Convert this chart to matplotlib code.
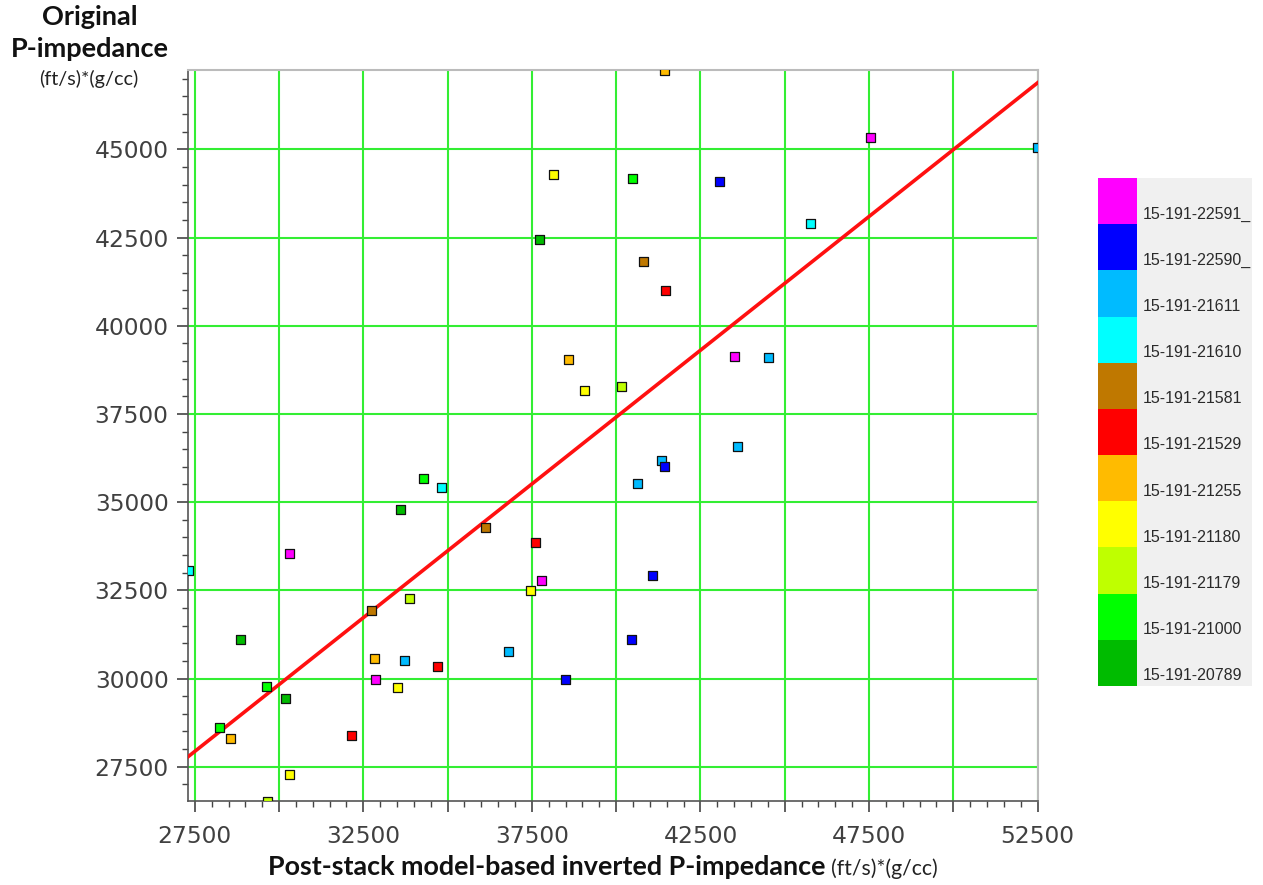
import matplotlib
matplotlib.use("Agg")
import matplotlib.pyplot as plt
from matplotlib.ticker import MultipleLocator, FuncFormatter
from matplotlib.patches import Rectangle

# %% data
wells = ['15-191-22591_', '15-191-22590_', '15-191-21611', '15-191-21610',
         '15-191-21581', '15-191-21529', '15-191-21255', '15-191-21180',
         '15-191-21179', '15-191-21000', '15-191-20789']
well_colors = ['#FF00FF', '#0000FF', '#00BBFF', '#00FFFF', '#BF7800', '#FF0000',
               '#FFBB00', '#FFFF00', '#BFFF00', '#00FF00', '#00BB00']

# inverted impedance (x), original impedance (y), well id (last 5 digits)
inv_x = [38135, 37740, 38600, 39075, 40164, 41420, 47535, 52500, 40480, 43062,
         45754, 40806, 41450, 43498, 44516, 34288, 34810, 33594, 36128, 37621,
         30299, 27300, 37790, 37464, 33861, 32745, 28845, 36820, 32834, 33724,
         34704, 32872, 38482, 29616, 33516, 30180, 28242, 28560, 32151, 30320,
         29658, 43587, 41331, 41420, 40628, 41085, 40441]
orig_y = [44272, 42457, 39056, 38177, 38271, 47248, 45340, 45045, 44178, 44082,
          42903, 41834, 41003, 39121, 39093, 35675, 35408, 34785, 34286, 33849,
          33549, 33056, 32792, 32489, 32262, 31922, 31111, 30780, 30573, 30516,
          30346, 29986, 29977, 29787, 29751, 29447, 28625, 28305, 28390, 27293,
          26528, 36590, 36193, 36003, 35541, 32925, 31111]
well_id = ['21180', '20789', '21255', '21180', '21179', '21255', '22591', '21611', '21000', '22590',
           '21610', '21581', '21529', '22591', '21611', '21000', '21610', '20789', '21581', '21529',
           '22591', '21610', '22591', '21180', '21179', '21581', '20789', '21611', '21255', '21611',
           '21529', '22591', '22590', '21000', '21180', '20789', '21000', '21255', '21529', '21180',
           '21179', '21611', '21611', '22590', '21611', '22590', '22590']

# fitted line (slope, intercept)
fit_slope = 0.758
fit_intercept = 27783 - 0.758 * 27300

#%% figure
fig = plt.figure(figsize=(12.63, 8.85), dpi=100)
ax = fig.add_axes([0.1489, 0.0949, 0.8726 - 0.1489 - 0.0511, 0.9209 - 0.0949])

color_of = {w[7:12]: c for w, c in zip(wells, well_colors)}
cols = [color_of[w] for w in well_id]

ax.set_xlim(min(inv_x), max(inv_x))
ax.set_ylim(min(orig_y), max(orig_y))

ax.xaxis.set_major_locator(MultipleLocator(2500))
ax.xaxis.set_minor_locator(MultipleLocator(500))
ax.yaxis.set_major_locator(MultipleLocator(2500))
ax.yaxis.set_minor_locator(MultipleLocator(500))
ax.xaxis.set_major_formatter(FuncFormatter(
    lambda v, p: '%d' % v if round(v - 27500) % 5000 == 0 else ''))
ax.yaxis.set_major_formatter(FuncFormatter(lambda v, p: '%d' % v))

ax.grid(True, which='major', color='#33EE33', linewidth=1.5, zorder=0)
ax.set_axisbelow(True)

ax.tick_params(which='major', length=8, width=1.2, color='#444444',
               labelsize=16.8, labelcolor='#404040', pad=6)
ax.tick_params(which='minor', length=4.5, width=1.0, color='#444444')
ax.tick_params(axis='x', which='major', pad=9)

for s in ['top', 'right']:
    ax.spines[s].set_color('#bbbbbb')
    ax.spines[s].set_linewidth(1.5)
for s in ['left', 'bottom']:
    ax.spines[s].set_color('#555555')
    ax.spines[s].set_linewidth(1.2)

xl = ax.get_xlim()
ax.plot(xl, [fit_intercept + fit_slope * v for v in xl], color='#FF1010',
        linewidth=2.6, zorder=3)

ax.scatter(inv_x, orig_y, marker='s', s=42, c=cols, edgecolors='#111111',
           linewidths=0.9, zorder=4)

# axis titles
fig.text(0.0713, 0.981, 'Original', ha='center', va='center',
         family='Lato', weight='bold', fontsize=19.5, color='#111111')
fig.text(0.0713, 0.945, 'P-impedance', ha='center', va='center',
         family='Lato', weight='bold', fontsize=19.5, color='#111111')
fig.text(0.0705, 0.911, '(ft/s)*(g/cc)', ha='center', va='center',
         family='Lato', fontsize=14.3, color='#222222')

t1 = fig.text(268 / 1263, 1 - 867 / 885, 'Post-stack model-based inverted P-impedance',
              ha='left', va='center', family='Lato', weight='bold', fontsize=19.4,
              color='#111111')
fig.canvas.draw()
bb = t1.get_window_extent()
fig.text((bb.x1 + 5) / 1263, 1 - 869 / 885, '(ft/s)*(g/cc)', ha='left', va='center',
         family='Lato', fontsize=15.3, color='#222222')

# legend as a colour column
lax = fig.add_axes([1098 / 1263, 1 - 686 / 885, 154 / 1263, 508 / 885])
lax.set_xlim(0, 1)
lax.set_ylim(0, len(wells))
lax.axis('off')
lax.add_patch(Rectangle((0, 0), 1, len(wells), facecolor='#F0F0F0', edgecolor='none'))
for i, (w, c) in enumerate(zip(wells, well_colors)):
    yb = len(wells) - 1 - i
    lax.add_patch(Rectangle((0.0, yb), 0.255, 1, facecolor=c, edgecolor='none'))
    lax.text(0.29, yb + 0.22, w, ha='left', va='center', fontsize=11.5,
             family='Liberation Sans', color='#2a2a2a')

fig.savefig('out.png', dpi=100)
